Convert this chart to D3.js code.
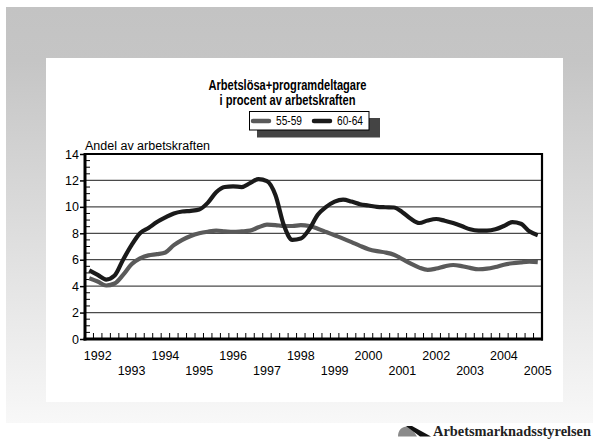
<!DOCTYPE html>
<html><head><meta charset="utf-8">
<script src="https://cdn.jsdelivr.net/npm/d3@7"></script>
<style>html,body{margin:0;padding:0;background:#fff;}svg{display:block;}</style>
</head><body>
<svg id="c" width="593" height="447"></svg>
<script>
// ---- data (quarterly, 1991Q4 .. 2005Q1) ----
const startYear = 1991.75;           // centre of first quarter category
const series5559 = [4.6,4.35,4.05,4.2,4.85,5.65,6.1,6.33,6.42,6.55,7.1,7.5,7.8,8.0,8.12,8.2,8.15,8.1,8.14,8.2,8.45,8.65,8.62,8.55,8.55,8.62,8.55,8.35,8.1,7.85,7.6,7.33,7.05,6.8,6.65,6.55,6.38,6.05,5.7,5.4,5.23,5.33,5.5,5.6,5.52,5.38,5.28,5.32,5.45,5.62,5.73,5.8,5.85,5.82];
const series6064 = [5.2,4.85,4.5,4.8,6.0,7.1,8.0,8.4,8.85,9.2,9.5,9.65,9.7,9.8,10.3,11.1,11.5,11.55,11.5,11.8,12.1,11.95,10.9,8.6,7.5,7.6,8.3,9.4,10.0,10.4,10.55,10.4,10.2,10.1,10.0,9.97,9.95,9.6,9.1,8.78,8.97,9.08,8.95,8.78,8.55,8.3,8.2,8.2,8.3,8.55,8.84,8.72,8.15,7.85];
const seriesNames = ["55-59","60-64"];
const yearLabels = [1992,1993,1994,1995,1996,1997,1998,1999,2000,2001,2002,2003,2004,2005];
const yTicks = [0,2,4,6,8,10,12,14];
const titleLines = ["Arbetslösa+programdeltagare","i procent av arbetskraften"];
const yAxisTitle = "Andel av arbetskraften";
const logoText = "Arbetsmarknadsstyrelsen";

const FONT = "Liberation Sans, Arial, sans-serif";
const svg = d3.select("#c");
const defs = svg.append("defs");
const grad = defs.append("linearGradient").attr("id","bg").attr("x1",0).attr("y1",0).attr("x2",0).attr("y2",1);
grad.append("stop").attr("offset","0").attr("stop-color","#c3c3c3");
grad.append("stop").attr("offset","0.13").attr("stop-color","#c5c5c5");
grad.append("stop").attr("offset","1").attr("stop-color","#f8f8f8");

svg.append("rect").attr("x",6).attr("y",7).attr("width",587).attr("height",416).attr("fill","url(#bg)");
svg.append("rect").attr("x",46).attr("y",58).attr("width",517).attr("height",344).attr("fill","#fff");

// scales
const n = series5559.length;
const x = d3.scaleLinear().domain([startYear-0.125, startYear-0.125+n*0.25]).range([85,542]);
const y = d3.scaleLinear().domain([0,14]).range([339,154]);
const t = i => startYear + i*0.25;

const g = svg.append("g");
// gridlines
g.selectAll("line.grid").data(yTicks.filter(v=>v>0&&v<14)).join("line")
  .attr("x1",x.range()[0]).attr("x2",x.range()[1]).attr("y1",d=>y(d)).attr("y2",d=>y(d))
  .attr("stroke","#4a4a4a").attr("stroke-width",1.2);

// minor y ticks (inside)
const minorY = d3.range(0,14.01,0.5).filter(v=>v%2!==0);
g.selectAll("line.my").data(minorY).join("line")
  .attr("x1",x.range()[0]).attr("x2",x.range()[0]+5).attr("y1",d=>y(d)).attr("y2",d=>y(d))
  .attr("stroke","#000").attr("stroke-width",1);
// minor x ticks (quarter boundaries)
const qBounds = d3.range(0,n+1).map(i=>startYear-0.125+i*0.25);
g.selectAll("line.mx").data(qBounds).join("line")
  .attr("x1",d=>x(d)).attr("x2",d=>x(d)).attr("y1",y(0)).attr("y2",y(0)-6)
  .attr("stroke","#000").attr("stroke-width",1);

// y axis via d3
const yAxis = d3.axisLeft(y).tickValues(yTicks).tickSize(5).tickFormat(d3.format("d"));
const ya = svg.append("g").attr("transform",`translate(${x.range()[0]},0)`).call(yAxis);
ya.select(".domain").remove();
ya.selectAll(".tick line").attr("stroke","#000").attr("stroke-width",1.5);
ya.selectAll(".tick text").attr("font-family",FONT).attr("font-size",12.5).attr("fill","#000").attr("x",-6);

// frame
svg.append("line").attr("x1",x.range()[0]).attr("x2",x.range()[1]).attr("y1",y(14)).attr("y2",y(14)).attr("stroke","#000").attr("stroke-width",2);
svg.append("line").attr("x1",x.range()[0]).attr("x2",x.range()[0]).attr("y1",y(14)-1).attr("y2",y(0)+1.5).attr("stroke","#000").attr("stroke-width",3);
svg.append("line").attr("x1",x.range()[1]).attr("x2",x.range()[1]).attr("y1",y(14)-1).attr("y2",y(0)+1.5).attr("stroke","#000").attr("stroke-width",2.2);
svg.append("line").attr("x1",x.range()[0]-1.5).attr("x2",x.range()[1]+1).attr("y1",y(0)).attr("y2",y(0)).attr("stroke","#000").attr("stroke-width",3);

// x labels
svg.selectAll("text.xl").data(yearLabels).join("text")
  .attr("x",d=>x(d)).attr("y",(d,i)=> i%2===0 ? 360 : 375)
  .attr("text-anchor","middle").attr("font-family",FONT).attr("font-size",12.5)
  .text(d=>d);

// lines
const line = d3.line().x((d,i)=>x(t(i))).y(d=>y(d)).curve(d3.curveMonotoneX);
const colors = ["#5a5a5a","#1a1a1a"];
[series5559, series6064].forEach((s,k)=>{
  svg.append("path").datum(s).attr("d",line).attr("fill","none")
    .attr("stroke",colors[k]).attr("stroke-width",4.2).attr("stroke-linejoin","round");
});

// axis title
svg.append("text").attr("x",85).attr("y",150).attr("font-family",FONT).attr("font-size",12.5).text(yAxisTitle);

// title
const titleLens = [158,136];
svg.selectAll("text.tt").data(titleLines).join("text")
  .attr("x",(d,i)=>287.5 - titleLens[i]/2).attr("y",(d,i)=>89.5+i*15.5)
  .attr("textLength",(d,i)=>titleLens[i]).attr("lengthAdjust","spacingAndGlyphs")
  .attr("font-family",FONT).attr("font-weight","bold").attr("font-size",14.5).text(d=>d);

// legend
const lg = svg.append("g");
lg.append("rect").attr("x",257).attr("y",118).attr("width",123).attr("height",19.5).attr("fill","#444");
lg.append("rect").attr("x",249.5).attr("y",111.5).attr("width",119.5).attr("height",18.5).attr("fill","#fff").attr("stroke","#000").attr("stroke-width",1);
const lx = [253,314];
seriesNames.forEach((nm,k)=>{
  lg.append("line").attr("x1",lx[k]).attr("x2",lx[k]+16).attr("y1",121).attr("y2",121).attr("stroke",colors[k]).attr("stroke-width",4.5).attr("stroke-linecap","round");
  lg.append("text").attr("x",lx[k]+23).attr("y",125.2).attr("font-family",FONT).attr("font-size",12).attr("textLength",26).attr("lengthAdjust","spacingAndGlyphs").text(nm);
});

// logo
const logo = svg.append("g");
logo.append("path").attr("d","M398,436.5 C398,430 402,426.5 407,426.5 C410,426.5 412,428.5 413.5,431 L417,436.5 Z").attr("fill","#8a8a8a");
logo.append("path").attr("d","M406,426 L412,426 L431,436.5 L420,436.5 Z").attr("fill","#111");
logo.append("text").attr("x",433).attr("y",436).attr("font-family","Liberation Serif, Times New Roman, serif").attr("font-weight","bold").attr("font-size",14.5)
  .attr("textLength",158).attr("lengthAdjust","spacingAndGlyphs").attr("fill","#222").text(logoText);
</script>
</body></html>
